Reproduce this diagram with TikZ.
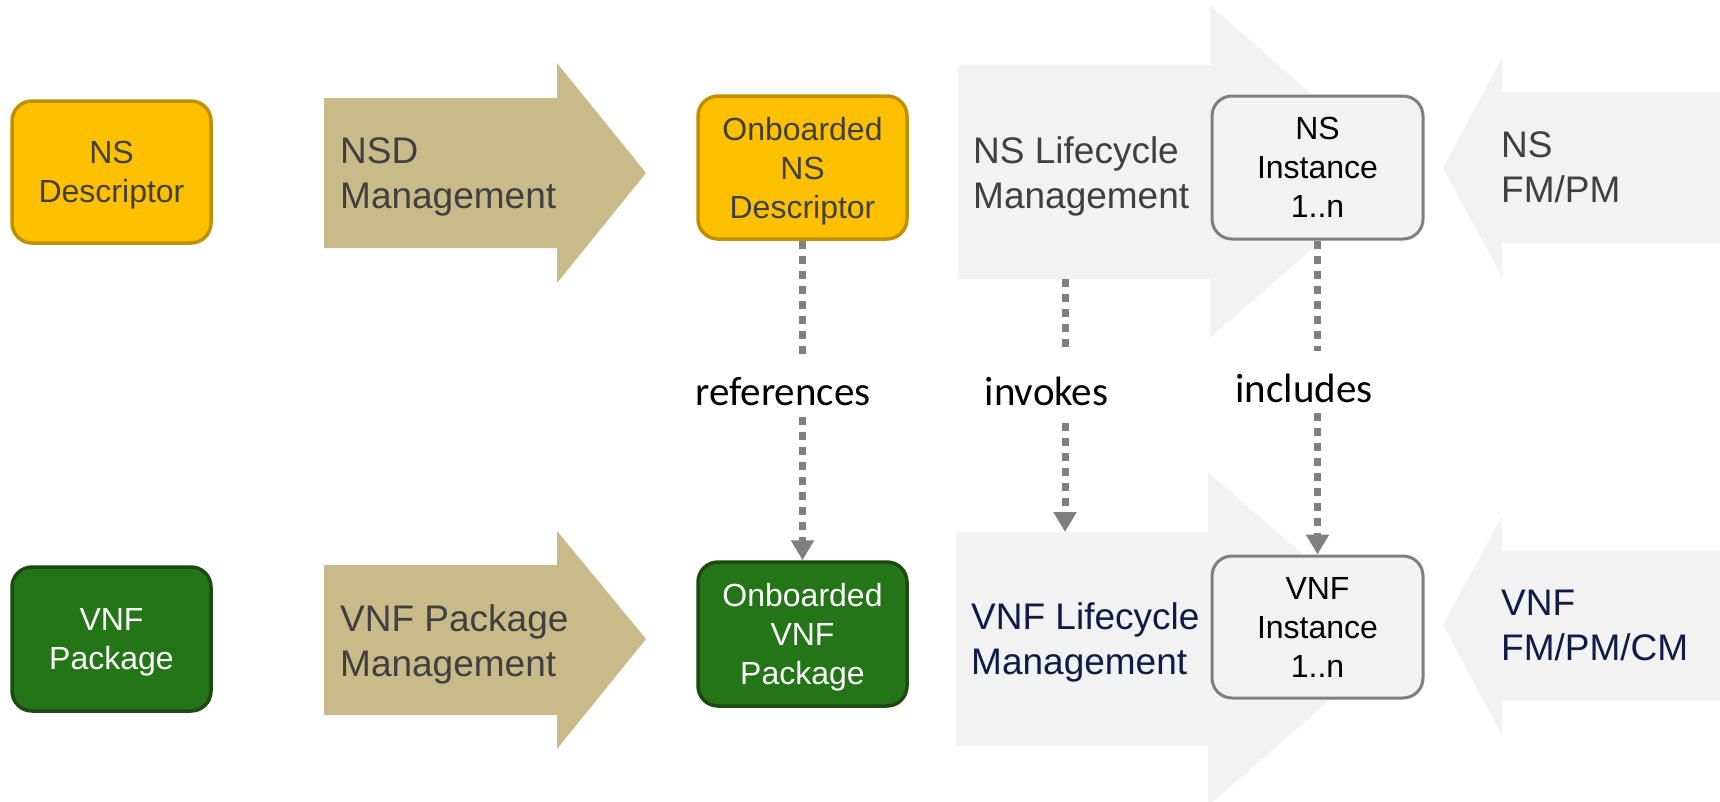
\documentclass[tikz,border=0pt]{standalone}
\usepackage{fontspec}
\setmainfont{Liberation Sans}
\newfontfamily\lblfont{Carlito}
\usetikzlibrary{arrows.meta}
\definecolor{goldfill}{HTML}{FFC000}
\definecolor{golddraw}{HTML}{BF9000}
\definecolor{greenfill}{HTML}{237517}
\definecolor{greendraw}{HTML}{1C4A11}
\definecolor{tan}{HTML}{C9BA89}
\definecolor{lightg}{HTML}{F2F2F2}
\definecolor{instdraw}{HTML}{7F7F7F}
\definecolor{dgray}{HTML}{808080}
\definecolor{txtgray}{HTML}{404040}
\definecolor{navy}{HTML}{0E1B47}
\begin{document}
\begin{tikzpicture}[x=1pt,y=-1pt,
  boxbase/.style={rounded corners=20pt, line width=3.5pt, align=center, inner sep=0pt,
    font=\fontsize{32}{39}\selectfont},
  goldbox/.style={boxbase, fill=goldfill, draw=golddraw, text=txtgray},
  greenbox/.style={boxbase, fill=greenfill, draw=greendraw, text=white},
  instbox/.style={boxbase, fill=lightg, draw=instdraw, line width=3pt, text=black},
  atext/.style={anchor=west, align=left, inner sep=0pt, font=\fontsize{37}{45}\selectfont},
  lbl/.style={anchor=base, inner sep=0pt, font=\lblfont\fontsize{41}{49}\selectfont, text=black},
  dline/.style={draw=dgray, line width=7pt, dash pattern=on 8pt off 7pt},
  dtip/.style={-{Triangle[width=22pt,length=20pt]}}
]
\useasboundingbox (0,0) rectangle (1720,801);
\clip (0,0) rectangle (1720,801);
\fill[white] (0,0) rectangle (1720,801);

% big process arrows
\fill[tan] (324,98) -- (557,98) -- (557,63) -- (646,173) -- (557,283) -- (557,248) -- (324,248) -- cycle;
\fill[tan] (324,565) -- (557,565) -- (557,531) -- (646,639) -- (557,749) -- (557,715) -- (324,715) -- cycle;
\fill[lightg] (958,65) -- (1210,65) -- (1210,5) -- (1400,172) -- (1210,338) -- (1210,279) -- (958,279) -- cycle;
\fill[lightg] (956,532) -- (1208,532) -- (1208,472) -- (1400,639) -- (1208,806) -- (1208,746) -- (956,746) -- cycle;
\fill[lightg] (1720,92) -- (1502,92) -- (1502,58) -- (1443,168) -- (1502,277) -- (1502,243) -- (1720,243) -- cycle;
\fill[lightg] (1720,551) -- (1502,551) -- (1502,516) -- (1443,625) -- (1502,735) -- (1502,701) -- (1720,701) -- cycle;

% arrow texts
\node[atext, text=txtgray] (tnsd) at (340,177) {NSD\\Management};
\node[atext, text=txtgray] (tvnfp) at (340,644) {VNF Package\\Management};
\node[atext, text=txtgray] (tnslcm) at (973,176) {NS Lifecycle\\Management};
\node[atext, text=navy] (tvnflcm) at (971,642.5) {VNF Lifecycle\\Management};
\node[atext, text=txtgray] (tnsfm) at (1501,167.5) {NS\\FM/PM};
\node[atext, text=navy] (tvnffm) at (1501,625.5) {VNF\\FM/PM/CM};

% boxes
\node[goldbox, minimum width=199pt, minimum height=142pt] (nsd) at (111.5,172) {NS\\\smash{Descriptor}};
\node[goldbox, minimum width=209pt, minimum height=143pt] (onsd) at (802.5,167.5) {Onboarded\\NS\\\smash{Descriptor}};
\node[instbox, minimum width=211pt, minimum height=143pt] (nsi) at (1317.5,167.5) {NS\\Instance\\1..n};
\node[greenbox, minimum width=199pt, minimum height=144pt] (vnfp) at (111.5,639) {VNF\\\smash{Package}};
\node[greenbox, minimum width=209pt, minimum height=144pt] (ovnf) at (802.5,634) {Onboarded\\VNF\\\smash{Package}};
\node[instbox, minimum width=211pt, minimum height=142pt] (vnfi) at (1317.5,627) {VNF\\Instance\\1..n};

% labels
\node[lbl] (lref) at (783,405) {references};
\node[lbl] (linv) at (1046.5,405) {invokes};
\node[lbl] (linc) at (1304,402) {includes};

% dashed connectors
\coordinate (r1) at (802.5,355);
\coordinate (r2) at (802.5,417);
\coordinate (i0) at (1065,279);
\coordinate (i1) at (1065,350);
\coordinate (i2) at (1065,423);
\coordinate (i3) at (1065,532);
\coordinate (c1) at (1317.5,351);
\coordinate (c2) at (1317.5,413);
\draw[dline] (onsd.south) -- (r1);
\draw[dline, dtip] (r2) -- (ovnf.north);
\draw[dline] (i0) -- (i1);
\draw[dline, dtip] (i2) -- (i3);
\draw[dline] (nsi.south) -- (c1);
\draw[dline, dtip] (c2) -- (vnfi.north);
\end{tikzpicture}
\end{document}
